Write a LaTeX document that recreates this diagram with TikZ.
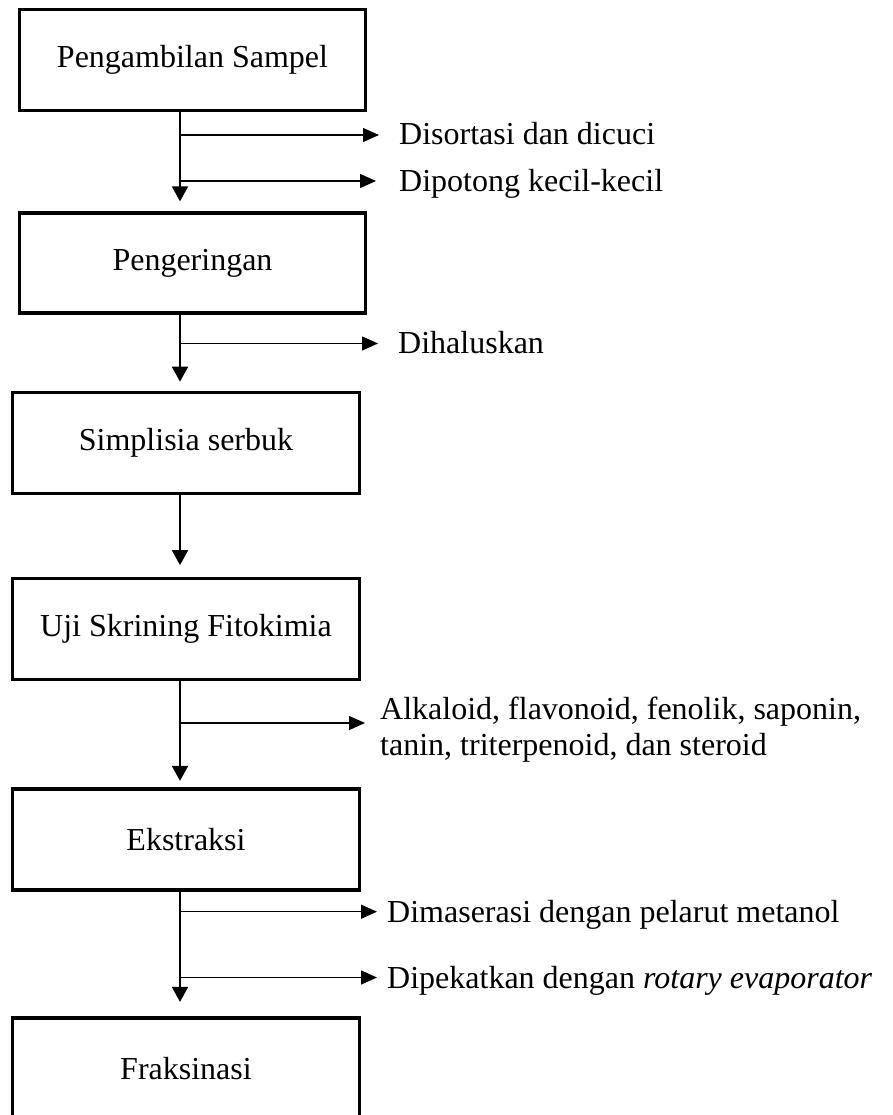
\documentclass[tikz,border=0pt]{standalone}
\usepackage{fontspec}
\setmainfont{Liberation Serif}
\usetikzlibrary{arrows.meta}
\begin{document}
\begin{tikzpicture}[x=1pt,y=-1pt,
  box/.style={draw, line width=3.2pt, minimum width=346pt, minimum height=101pt, inner sep=0pt},
  vconn/.style={line width=1.8pt, -{Triangle[length=15pt,width=16pt]}},
  hconn/.style={line width=1.4pt, -{Triangle[length=16pt,width=14pt]}},
  lab/.style={anchor=base west, inner sep=0pt},
  every node/.style={font=\fontsize{32}{36}\selectfont}]
\useasboundingbox (0,0) rectangle (893,1115);
\clip (0,0) rectangle (893,1115);
\coordinate (vx) at (180,0);
% boxes
\node[box] (b1) at (192.5,60.25) {Pengambilan Sampel};
\node[box, minimum height=100pt] (b2) at (192.5,263) {Pengeringan};
\node[box, minimum width=347pt] (b3) at (186,443.25) {Simplisia serbuk};
\node[box, minimum width=347pt] (b4) at (186,629.25) {Uji Skrining Fitokimia};
\node[box, minimum width=347pt] (b5) at (186,839.5) {Ekstraksi};
\node[box, minimum width=347pt] (b6) at (186,1068.5) {Fraksinasi};
% main flow
\draw[vconn, shorten >=10pt] (b1.south -| vx) -- (b2.north -| vx);
\draw[vconn, shorten >=9.5pt] (b2.south -| vx) -- (b3.north -| vx);
\draw[vconn, shorten >=12pt] (b3.south -| vx) -- (b4.north -| vx);
\draw[vconn, shorten >=6.5pt] (b4.south -| vx) -- (b5.north -| vx);
\draw[vconn, shorten >=14.5pt] (b5.south -| vx) -- (b6.north -| vx);
% side branches
\coordinate (t1) at (379,135);
\coordinate (t2) at (376,181);
\coordinate (t3) at (378,343.5);
\coordinate (t4) at (365,723);
\coordinate (t5) at (377,911.7);
\coordinate (t6) at (377,977.5);
\draw[hconn] (t1 -| vx) -- (t1);
\draw[hconn] (t2 -| vx) -- (t2);
\draw[hconn] (t3 -| vx) -- (t3);
\draw[hconn] (t4 -| vx) -- (t4);
\draw[hconn] (t5 -| vx) -- (t5);
\draw[hconn] (t6 -| vx) -- (t6);
\node[lab] (l1) at (399,145) {Disortasi dan dicuci};
\node[lab] (l2) at (399,191.5) {Dipotong kecil-kecil};
\node[lab] (l3) at (398,353.5) {Dihaluskan};
\node[lab] (l4) at (380,719) {\vtop{\baselineskip=36pt\hbox{Alkaloid, flavonoid, fenolik, saponin,}\hbox{tanin, triterpenoid, dan steroid}}};
\node[lab] (l5) at (387,922) {Dimaserasi dengan pelarut metanol};
\node[lab] (l6) at (387,988) {Dipekatkan dengan \textit{rotary evaporator}};
\end{tikzpicture}
\end{document}
